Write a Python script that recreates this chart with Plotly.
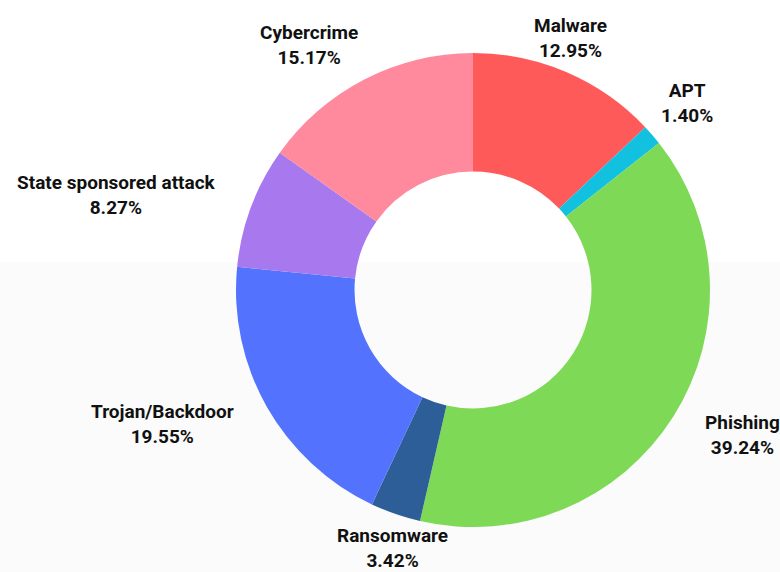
import math
import plotly.graph_objects as go

# Share of reported incidents by attack type (percent)
categories = ["Malware", "APT", "Phishing", "Ransomware",
              "Trojan/Backdoor", "State sponsored attack", "Cybercrime"]
shares = [12.95, 1.40, 39.24, 3.42, 19.55, 8.27, 15.17]
colors = ["#FF5A5A", "#12C1E0", "#7ED957", "#2D5E98",
          "#5373FF", "#A878EF", "#FF8A9D"]

W, H = 780, 572
CX, CY, R = 473, 290, 237      # donut centre and outer radius, in pixels
HOLE = 0.5

fig = go.Figure(go.Pie(
    labels=categories,
    values=shares,
    marker=dict(colors=colors, line=dict(width=0)),
    hole=HOLE,
    sort=False,
    direction="clockwise",
    rotation=0,
    textinfo="none",
    hoverinfo="label+percent",
    showlegend=False,
    domain=dict(x=[(CX - R) / W, (CX + R) / W],
                y=[(H - CY - R) / H, (H - CY + R) / H]),
))

# Outside labels, placed around the ring at each slice's mid angle
total = sum(shares)
cum = 0.0
annotations = []
for cat, v in zip(categories, shares):
    theta = 2 * math.pi * (cum + v / 2) / total
    cum += v
    s, c = math.sin(theta), -math.cos(theta)
    if abs(s) < 0.42:
        xa = "center"
    else:
        xa = "left" if s > 0 else "right"
    if c < -0.6:
        ya = "bottom"
    elif c > 0.6:
        ya = "top"
    else:
        ya = "middle"
    r_lab = R + (9 if ya != "middle" else 35)
    px, py = CX + r_lab * s, CY + r_lab * c
    annotations.append(dict(
        x=px / W, y=1 - py / H, xref="paper", yref="paper",
        xanchor=xa, yanchor=ya, align="center", showarrow=False,
        text=f"{cat}<br>{v / total * 100:.2f}%",
        font=dict(family="Roboto", size=19, color="#111111", weight="bold"),
    ))

fig.update_layout(
    width=W, height=H,
    margin=dict(l=0, r=0, t=0, b=0),
    paper_bgcolor="#FFFFFF",
    plot_bgcolor="#FFFFFF",
    annotations=annotations,
    shapes=[dict(type="rect", xref="paper", yref="paper",
                 x0=0, x1=1, y0=0, y1=(H - 262) / H,
                 fillcolor="#FBFBFB", line=dict(width=0), layer="below")],
)

fig.write_html("out.html")
